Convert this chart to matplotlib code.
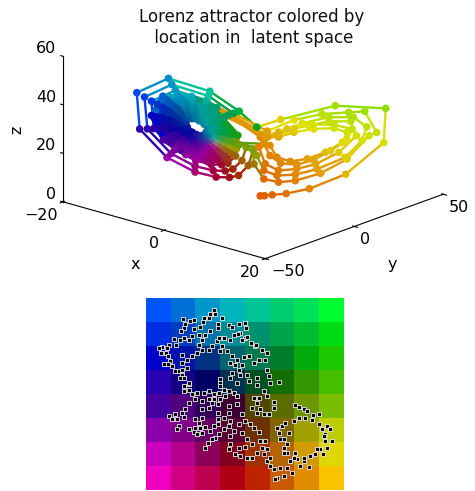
import numpy as np
import matplotlib
matplotlib.use("Agg")
import matplotlib.pyplot as plt
from mpl_toolkits.mplot3d.art3d import Line3DCollection

# trajectory
x_vals = [1.0, 1.6, 2.7, 4.7, 8.0, 13.2, 18.6, 18.9, 11.7, 3.9,
          0.5, -2.0, -6.2, -12.1, -16.6, -16.2, -12.3, -8.3, -5.3, -3.4, -2.1, -0.7, 0.0,
          0.1, 1.5, 3.6, 6.0, 9.6, 13.4, 16.5, 17.6, 15.9, 13.6, 9.8, 5.8, 2.0,
          -2.8, -6.4, -11.6, -15.5, -15.1, -11.7, -8.3, -5.7, -4.0, -2.9, -1.6, -1.0,
          0.5, 1.5, 3.4, 6.0, 9.1, 13.1, 15.5, 16.2, 14.3, 10.8, 7.0, 3.6, 1.0,
          -3.5, -6.6, -11.1, -14.5, -14.2, -11.2, -8.2, -6.0, -4.5, -3.6, -2.5, -2.0,
          0.8, 1.7, 3.6, 6.2, 8.9, 12.2, 14.7, 13.9, 10.8, 7.9, 4.8, 2.0,
          -4.0, -6.8, -10.7, -13.7, -13.4, -10.8, -8.2, -6.2, -5.0, -4.1, -3.2, -2.7,
          1.5, 2.4, 3.9, 6.2, 8.6, 11.0, 13.4, 14.1, 11.5, 8.4, 5.8, 3.4, 1.5,
          2.4, 3.4, 5.3, 7.7, 10.3, 12.7, 13.4, 11.5, 8.6, 5.8, 3.6, 1.5,
          -5.2, -8.8, -12.9, -14.5, -12.8, -9.6, -6.5, -3.7, -2.4, -2.2,
          -5.5, -8.7, -12.3, -13.8, -12.2, -9.4, -6.6, -4.2, -3.0, -2.9,
          -4.5, -5.8, -7.0, -8.7, -10.4, -11.9, -13.0, -13.1, -12.8, -11.7, -10.5, -9.3, -8.2, -6.8, -5.3, -4.6, -3.8, -3.6, -3.4, -3.4,
          -4.9, -6.0, -7.1, -8.6, -10.1, -11.4, -12.5, -12.6, -12.3, -11.3, -10.2, -9.1, -8.2, -6.9, -5.6, -5.0, -4.2, -4.1, -3.8, -3.9,
          -5.2, -6.3, -7.2, -8.5, -9.9, -11.0, -12.0, -12.0, -11.8, -10.9, -10.0, -9.0, -8.1, -7.1, -5.9, -5.3, -4.6, -4.6, -4.3, -4.4,
          -5.5, -6.5, -7.3, -8.5, -9.7, -10.7, -11.5, -11.6, -11.4, -10.6, -9.8, -8.9, -8.1, -7.2, -6.1, -5.6, -5.0, -4.9, -4.7, -4.8,
          -5.8, -6.7, -7.4, -8.4, -9.5, -10.3, -11.1, -11.1, -11.0, -10.3, -9.5, -8.8, -8.1, -7.3, -6.3, -5.9, -5.4, -5.3, -5.1, -5.2,
          -6.1, -6.9, -7.4, -8.3, -9.3, -10.0, -10.7, -10.7, -10.5, -9.9, -9.3, -8.7, -8.1, -7.4, -6.6, -6.2, -5.7, -5.7, -5.5, -5.6,
          -6.4, -7.1, -7.5, -8.3, -9.1, -9.6, -10.2, -10.2, -10.1, -9.6, -9.1, -8.5, -8.1, -7.5, -6.8, -6.5, -6.1, -6.1, -5.9, -6.0,
          -6.7, -7.2, -7.6, -8.2, -8.9, -9.3, -9.8, -9.8, -9.7, -9.3, -8.9, -8.4, -8.1, -7.6, -7.0, -6.8, -6.5, -6.5, -6.3, -6.4,
          -7.0, -7.7, -8.7, -9.5, -9.4, -8.7, -8.1, -7.2, -6.8, -6.6]
y_vals = [1.1, 1.8, 3.0, 5.2, 8.8, 14.5, 20.5, 20.8, 12.9, 4.3,
          0.6, -2.2, -6.8, -13.3, -18.3, -17.8, -13.5, -9.1, -5.8, -3.7, -2.3, -0.8, 0.0,
          0.1, 1.7, 4.0, 6.6, 10.6, 14.7, 18.2, 19.4, 17.5, 15.0, 10.8, 6.4, 2.2,
          -3.1, -7.0, -12.8, -17.1, -16.6, -12.9, -9.1, -6.3, -4.4, -3.2, -1.8, -1.1,
          0.6, 1.7, 3.7, 6.6, 10.0, 14.4, 17.1, 17.8, 15.7, 11.9, 7.7, 4.0, 1.1,
          -3.9, -7.3, -12.2, -16.0, -15.6, -12.3, -9.0, -6.6, -5.0, -4.0, -2.8, -2.2,
          0.9, 1.9, 4.0, 6.8, 9.8, 13.4, 16.2, 15.3, 11.9, 8.7, 5.3, 2.2,
          -4.4, -7.5, -11.8, -15.1, -14.7, -11.9, -9.0, -6.8, -5.5, -4.5, -3.5, -3.0,
          1.7, 2.6, 4.3, 6.8, 9.5, 12.1, 14.7, 15.5, 12.7, 9.2, 6.4, 3.7, 1.7,
          2.6, 3.7, 5.8, 8.5, 11.3, 14.0, 14.7, 12.7, 9.5, 6.4, 4.0, 1.7,
          -5.7, -9.7, -14.2, -16.0, -14.1, -10.6, -7.2, -4.1, -2.6, -2.4,
          -6.1, -9.6, -13.5, -15.2, -13.4, -10.3, -7.3, -4.6, -3.3, -3.2,
          -5.0, -6.4, -7.7, -9.6, -11.4, -13.1, -14.3, -14.4, -14.1, -12.9, -11.6, -10.2, -9.0, -7.5, -5.8, -5.1, -4.2, -4.0, -3.7, -3.7,
          -5.4, -6.6, -7.8, -9.5, -11.1, -12.5, -13.8, -13.9, -13.5, -12.4, -11.2, -10.0, -9.0, -7.6, -6.2, -5.5, -4.6, -4.5, -4.2, -4.3,
          -5.7, -6.9, -7.9, -9.4, -10.9, -12.1, -13.2, -13.2, -13.0, -12.0, -11.0, -9.9, -8.9, -7.8, -6.5, -5.8, -5.1, -5.1, -4.7, -4.8,
          -6.1, -7.2, -8.0, -9.4, -10.7, -11.8, -12.7, -12.8, -12.5, -11.7, -10.8, -9.8, -8.9, -7.9, -6.7, -6.2, -5.5, -5.4, -5.2, -5.3,
          -6.4, -7.4, -8.1, -9.2, -10.5, -11.3, -12.2, -12.2, -12.1, -11.3, -10.5, -9.7, -8.9, -8.0, -6.9, -6.5, -5.9, -5.8, -5.6, -5.7,
          -6.7, -7.6, -8.1, -9.1, -10.2, -11.0, -11.8, -11.8, -11.6, -10.9, -10.2, -9.6, -8.9, -8.1, -7.3, -6.8, -6.3, -6.3, -6.1, -6.2,
          -7.0, -7.8, -8.3, -9.1, -10.0, -10.6, -11.2, -11.2, -11.1, -10.6, -10.0, -9.4, -8.9, -8.3, -7.5, -7.2, -6.7, -6.7, -6.5, -6.6,
          -7.4, -7.9, -8.4, -9.0, -9.8, -10.2, -10.8, -10.8, -10.7, -10.2, -9.8, -9.2, -8.9, -8.4, -7.7, -7.5, -7.2, -7.2, -6.9, -7.0,
          -7.7, -8.5, -9.6, -10.5, -10.3, -9.6, -8.9, -7.9, -7.5, -7.3]
z_vals = [1.2, 1.4, 2.1, 3.2, 6.2, 13.7, 28.3, 42.5, 41.5, 33.5,
          29.4, 35.2, 42.2, 45.8, 38.6, 23.7, 13.1, 8.3, 7.1, 7.5, 8.7, 13.2, 19.6,
          14.1, 8.3, 7.6, 8.9, 13.0, 20.0, 30.5, 32.2, 40.4, 39.3, 37.5, 33.9, 28.2,
          34.1, 40.2, 43.4, 37.1, 24.1, 14.9, 10.7, 9.7, 10.0, 11.1, 15.0, 20.6,
          17.7, 11.8, 10.3, 11.4, 14.6, 20.6, 28.2, 34.1, 37.5, 36.5, 32.9, 28.2, 25.4,
          33.2, 38.4, 41.1, 35.7, 24.5, 16.6, 13.0, 12.1, 12.4, 13.3, 16.6, 21.4,
          21.2, 14.6, 12.4, 13.8, 16.6, 22.4, 30.0, 35.7, 34.8, 32.2, 29.9, 25.7,
          32.4, 37.0, 39.4, 34.7, 24.8, 17.8, 14.7, 13.9, 14.1, 14.9, 17.9, 22.1,
          22.8, 18.2, 15.5, 15.6, 18.2, 22.7, 27.8, 32.6, 33.6, 32.8, 30.2, 26.8, 24.2,
          22.4, 17.8, 16.7, 18.4, 21.9, 26.7, 31.0, 32.2, 31.0, 28.8, 26.2, 26.5,
          35.8, 39.3, 38.2, 29.8, 20.3, 15.1, 13.1, 15.1, 19.6, 25.2,
          34.8, 37.9, 36.9, 29.5, 21.1, 16.5, 14.7, 16.5, 20.4, 25.4,
          31.8, 33.9, 35.8, 36.6, 37.9, 35.8, 33.7, 29.2, 25.1, 21.8, 18.9, 17.6, 16.2, 16.1, 15.7, 17.6, 19.0, 21.2, 22.7, 25.6,
          31.3, 33.1, 34.9, 35.6, 36.8, 34.8, 33.0, 29.0, 25.3, 22.3, 19.8, 18.7, 17.3, 17.3, 16.9, 18.7, 19.8, 21.8, 23.2, 25.8,
          30.8, 32.4, 34.0, 34.5, 35.6, 33.9, 32.3, 28.7, 25.5, 22.9, 20.6, 19.7, 18.4, 18.5, 18.0, 19.7, 20.7, 22.4, 23.6, 25.9,
          30.4, 31.8, 33.2, 33.7, 34.7, 33.2, 31.8, 28.5, 25.6, 23.3, 21.3, 20.5, 19.3, 19.4, 19.0, 20.5, 21.3, 22.9, 24.0, 26.0,
          30.0, 31.2, 32.5, 32.9, 33.8, 32.4, 31.2, 28.3, 25.8, 23.8, 22.0, 21.3, 20.3, 20.4, 20.0, 21.3, 22.0, 23.4, 24.3, 26.2,
          29.5, 30.6, 31.7, 32.0, 32.8, 31.6, 30.6, 28.1, 26.0, 24.3, 22.7, 22.2, 21.2, 21.4, 21.0, 22.2, 22.7, 24.0, 24.7, 26.3,
          29.1, 29.9, 31.0, 31.1, 31.9, 30.8, 30.0, 27.9, 26.1, 24.8, 23.4, 23.0, 22.1, 22.3, 21.9, 23.0, 23.4, 24.5, 25.1, 26.4,
          28.7, 29.4, 30.2, 30.3, 30.9, 30.0, 29.4, 27.8, 26.3, 25.2, 24.1, 23.8, 23.1, 23.2, 22.9, 23.8, 24.1, 25.0, 25.4, 26.5,
          28.4, 29.6, 30.2, 29.0, 26.4, 24.6, 23.8, 23.7, 24.7, 25.7]

# colour of each 8x8 cell of the latent map
grid_rgb = [
    [(0, 85, 255), (0, 110, 215), (0, 150, 200), (0, 180, 190), (0, 195, 150), (0, 205, 110), (0, 225, 85), (0, 255, 50)],
    [(0, 45, 225), (0, 60, 190), (0, 115, 170), (0, 140, 150), (0, 145, 110), (0, 165, 75), (0, 190, 50), (0, 220, 20)],
    [(0, 0, 205), (0, 20, 170), (0, 50, 130), (0, 100, 110), (0, 120, 80), (0, 125, 40), (0, 170, 10), (30, 200, 0)],
    [(40, 0, 175), (20, 0, 135), (0, 0, 100), (0, 50, 80), (0, 80, 35), (20, 110, 0), (50, 150, 0), (70, 190, 0)],
    [(70, 0, 160), (80, 0, 125), (50, 0, 90), (60, 0, 50), (80, 70, 0), (90, 110, 0), (110, 150, 0), (120, 190, 0)],
    [(140, 0, 170), (130, 0, 135), (100, 0, 100), (90, 0, 50), (110, 50, 0), (130, 100, 0), (160, 160, 0), (190, 205, 0)],
    [(200, 0, 190), (180, 0, 140), (140, 0, 90), (130, 0, 30), (160, 50, 0), (180, 100, 0), (210, 155, 0), (225, 215, 0)],
    [(240, 0, 190), (210, 0, 130), (190, 0, 80), (175, 0, 20), (190, 35, 0), (200, 90, 0), (225, 140, 0), (250, 195, 0)],
]

# encoded positions in the latent map
latent_u = [205, 208, 193, 188, 175, 171, 161, 145, 131, 111, 118, 113, 105, 143, 158, 138, 128, 113, 85, 101,
            91, 68, 63, 48, 38, 45, 61, 65, 73, 53, 65, 78, 86, 98, 108, 113, 101, 128, 113, 113,
            158, 168, 178, 193, 215, 215, 228, 248, 258, 278, 298, 301, 283, 298, 275, 288, 303, 263, 253, 233,
            228, 213, 198, 188, 168, 153, 138, 123, 108, 108, 123, 108, 128, 218, 223, 243, 258, 273, 293, 308,
            325, 338, 358, 363, 348, 328, 315, 331,
            253, 268, 288, 278, 258, 253, 273, 283, 303, 308, 333, 333, 363, 368, 373, 398, 353, 363, 338, 323,
            333, 318, 343, 333, 353, 368, 383, 385, 221, 221, 221,
            128, 138, 153, 173, 188, 203, 218, 233, 248, 263, 273, 238, 223, 203, 188, 168, 148, 128,
            118, 108, 88, 68, 78, 93, 113, 98, 93, 148, 168, 188, 198, 168, 158, 178, 163, 148, 128, 143, 153, 168,
            215, 215, 215, 215, 203, 193, 208, 185, 178, 198, 218, 233, 233, 248, 248, 253, 248, 263, 253, 253,
            248, 268, 283, 303, 318, 333, 348, 358, 343, 273, 288, 298, 313, 323, 338, 278, 288, 303, 318, 298, 278,
            448, 458, 473, 483, 501, 518, 543, 553, 558, 538, 536, 543, 531, 523, 508, 493, 473, 453, 443, 423,
            413, 403, 398, 408, 418, 443, 458, 478, 498, 518, 528, 533, 513, 473, 433, 413, 423, 415, 428, 393,
            353, 363, 373, 383, 403, 423, 438, 463, 488, 448, 393, 388, 413, 363, 373]
latent_v = [35, 48, 48, 60, 60, 72, 88, 65, 68, 63, 78, 90, 100, 93, 110, 115, 125, 120, 123, 125,
            140, 140, 150, 148, 150, 165, 165, 175, 190, 198, 197, 205, 220, 218, 230, 240, 240, 258, 265, 280,
            140, 125, 110, 100, 90, 78, 60, 80, 88, 78, 75, 90, 105, 120, 108, 125, 118, 110, 125, 120,
            145, 130, 145, 155, 155, 165, 175, 185, 170, 195, 210, 215, 255, 120, 160, 160, 175, 185, 178, 175,
            195, 185, 185, 165, 155, 145, 135, 142,
            195, 200, 200, 215, 225, 240, 255, 230, 232, 250, 260, 240, 215, 235, 255, 253, 280, 295, 300, 300,
            315, 332, 335, 345, 350, 348, 330, 312, 242, 255, 265,
            275, 290, 285, 285, 280, 290, 285, 275, 280, 285, 295, 295, 305, 305, 305, 310, 305, 315,
            335, 345, 350, 355, 365, 365, 358, 385, 395, 365, 335, 330, 315, 360, 375, 388, 390, 390, 395, 403, 410, 405,
            320, 345, 365, 380, 385, 400, 420, 435, 450, 425, 410, 395, 360, 325, 345, 370, 385, 400, 415, 440,
            455, 470, 475, 480, 482, 465, 450, 430, 430, 320, 350, 370, 380, 390, 403, 380, 405, 425, 440, 448, 450,
            322, 328, 335, 340, 352, 350, 385, 395, 430, 410, 430, 450, 470, 455, 470, 475, 490, 485, 480, 465,
            450, 425, 405, 385, 375, 370, 360, 360, 368, 380, 395, 415, 455, 480, 490, 465, 440, 425, 405, 390,
            470, 490, 505, 515, 510, 512, 525, 505, 508, 465, 540, 545, 535, 455, 480]

x_ticks = [-20, 0, 20]
y_ticks = [-50, 0, 50]
z_ticks = [0, 20, 40, 60]

grid = np.array(grid_rgb) / 255.0


def lookup(col, row):
    # bilinear read of the cell colours, col and row in cell units
    col = np.clip(col, 0, 7)
    row = np.clip(row, 0, 7)
    c0 = np.minimum(col.astype(int), 6)
    r0 = np.minimum(row.astype(int), 6)
    fc = (col - c0)[:, None]
    fr = (row - r0)[:, None]
    top = grid[r0, c0] * (1 - fc) + grid[r0, c0 + 1] * fc
    bot = grid[r0 + 1, c0] * (1 - fc) + grid[r0 + 1, c0 + 1] * fc
    return top * (1 - fr) + bot * fr


x = np.array(x_vals)
y = np.array(y_vals)
z = np.array(z_vals)

# each wing of the attractor lands on its own patch of the latent map
left = x < 0.7
col = np.where(left, 2.5 + 0.4 * (x + 8) + 0.05 * (z - 27), 6.0 + 0.14 * (x - 9))
row = np.where(left, 2.6 - 0.2 * (z - 27), 5.5 - 0.08 * (z - 24))
colors = lookup(col, row)
# the plotted line is brighter than the map cells around the wing centres
value = colors.max(axis=1, keepdims=True)
floor = np.where(left, 0.62, 0.88)[:, None]
colors = np.clip(colors * np.maximum(value, floor) / np.maximum(value, 0.01), 0, 1)

fig = plt.figure(figsize=(4.75, 4.91), dpi=100)

ax = fig.add_axes([0.025, 0.447, 1.0, 0.58], projection="3d", proj_type="ortho")
ax.view_init(elev=18.6, azim=-48.6)
ax.set_box_aspect((1, 1, 0.57), zoom=1.4)
ax.patch.set_alpha(0)

pts = np.column_stack([x, y, z])
segs = np.stack([pts[:-1], pts[1:]], axis=1)
# the inner laps of the left wing close up into a solid blob
widths = np.full(len(segs), 1.7)
widths[-190:] = 3.4
ax.add_collection3d(Line3DCollection(segs, colors=colors[:-1], linewidths=widths))
ax.scatter(x, y, z, c=colors, s=30, depthshade=False, linewidths=0)

ax.set_xlim(-20, 20)
ax.set_ylim(-50, 50)
ax.set_zlim(0, 60)
ax.set_xticks(x_ticks)
ax.set_yticks(y_ticks)
ax.set_zticks(z_ticks)
ax.zaxis._axinfo["juggled"] = (1, 2, 0)
ax.zaxis._axinfo["tick"]["inward_factor"] = 0
ax.zaxis._axinfo["tick"]["outward_factor"] = 0.15
ax.tick_params(axis="x", labelsize=11.5, pad=-5)
ax.tick_params(axis="y", labelsize=11.5, pad=-5)
ax.tick_params(axis="z", labelsize=11.5, pad=-6)
for lab in ax.get_xticklabels():
    lab.set_ha("right")
for lab in ax.get_yticklabels():
    lab.set_ha("left")
for lab in ax.get_zticklabels():
    lab.set_ha("right")
    lab.set_va("bottom")
ax.zaxis.set_rotate_label(False)
ax.set_xlabel("x", fontsize=11.5, labelpad=-3.5)
ax.set_ylabel("y", fontsize=11.5, labelpad=-1)
ax.set_zlabel("z", fontsize=11.5, labelpad=-8, rotation=90)
ax.grid(False)
for axis in (ax.xaxis, ax.yaxis, ax.zaxis):
    axis.set_pane_color((1, 1, 1, 0))
    axis.pane.set_edgecolor((1, 1, 1, 0))
    axis.line.set_color("black")
    axis.line.set_linewidth(0.8)
fig.text(0.529, 0.984, "Lorenz attractor colored by\n location in  latent space",
         fontsize=12, ha="center", va="top", color="#111111")

ax2 = fig.add_axes([146 / 475, 1 - 490 / 491, 198 / 475, 192 / 491])
ax2.imshow(np.array(grid_rgb, dtype=np.uint8), extent=(0, 594, 577, 0),
           interpolation="nearest", aspect="auto")
ax2.scatter(latent_u, latent_v, marker="s", s=11, c="black",
            edgecolors="#eeeeee", linewidths=0.6)
ax2.set_xlim(0, 594)
ax2.set_ylim(577, 0)
ax2.axis("off")

fig.savefig("out.png", dpi=100)
